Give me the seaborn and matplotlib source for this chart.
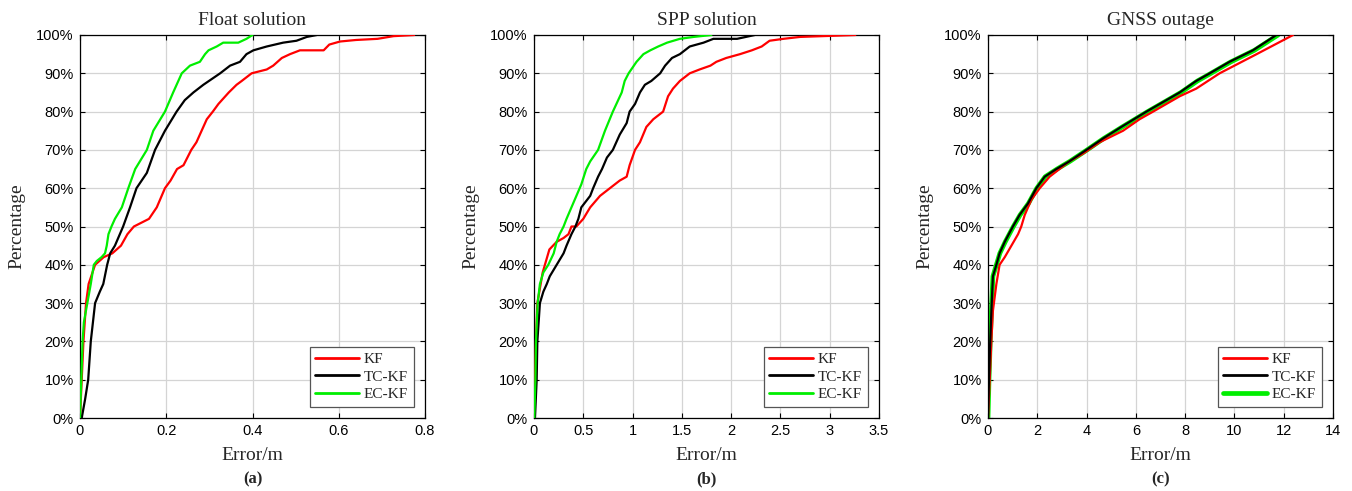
import numpy as np
import pandas as pd
import matplotlib
matplotlib.use("Agg")
import matplotlib.pyplot as plt
import seaborn as sns

# ---------------- data ----------------
methods = ["KF", "TC-KF", "EC-KF"]
panel_titles = ["Float solution", "SPP solution", "GNSS outage"]
panel_tags = ["(a)", "(b)", "(c)"]
x_limits = [0.8, 3.5, 14]
x_ticks = [[0, 0.2, 0.4, 0.6, 0.8],
           [0, 0.5, 1, 1.5, 2, 2.5, 3, 3.5],
           [0, 2, 4, 6, 8, 10, 12, 14]]
x_ticklabels = [["0", "0.2", "0.4", "0.6", "0.8"],
                ["0", "0.5", "1", "1.5", "2", "2.5", "3", "3.5"],
                ["0", "2", "4", "6", "8", "10", "12", "14"]]
y_ticks = [0, 10, 20, 30, 40, 50, 60, 70, 80, 90, 100]
y_ticklabels = ["0%", "10%", "20%", "30%", "40%", "50%", "60%", "70%", "80%", "90%", "100%"]

# (a) Float solution
a_kf_err = [0, 0.004, 0.008, 0.014, 0.020, 0.035, 0.055, 0.075, 0.095, 0.110, 0.125, 0.160, 0.178,
            0.197, 0.210, 0.225, 0.240, 0.258, 0.270, 0.282, 0.294, 0.308, 0.321, 0.345, 0.363,
            0.375, 0.398, 0.433, 0.448, 0.468, 0.487, 0.510, 0.565, 0.578, 0.603, 0.640, 0.690,
            0.727, 0.775]
a_kf_pct = [0, 10, 20, 30, 35, 40, 42, 43, 45, 48, 50, 52, 55,
            60, 62, 65, 66, 70, 72, 75, 78, 80, 82, 85, 87,
            88, 90, 91, 92, 94, 95, 96, 96, 97.5, 98.3, 98.7, 99,
            99.7, 100]
a_tc_err = [0.004, 0.012, 0.019, 0.025, 0.035, 0.046, 0.054, 0.063, 0.070, 0.081, 0.100, 0.116,
            0.131, 0.155, 0.174, 0.197, 0.224, 0.243, 0.263, 0.286, 0.325, 0.348, 0.371, 0.386,
            0.402, 0.433, 0.471, 0.502, 0.526, 0.549]
a_tc_pct = [0, 5, 10, 20, 30, 33, 35, 40, 43, 45, 50, 55,
            60, 64, 70, 75, 80, 83, 85, 87, 90, 92, 93, 95,
            96, 97, 98, 98.5, 99.5, 100]
a_ec_err = [0, 0.003, 0.006, 0.009, 0.017, 0.025, 0.032, 0.039, 0.050, 0.058, 0.062, 0.066, 0.073,
            0.081, 0.097, 0.112, 0.128, 0.155, 0.170, 0.197, 0.216, 0.236, 0.255, 0.278, 0.290,
            0.298, 0.317, 0.332, 0.367, 0.386, 0.400]
a_ec_pct = [0, 10, 20, 25, 30, 35, 40, 41, 42, 43, 45, 48, 50,
            52, 55, 60, 65, 70, 75, 80, 85, 90, 92, 93, 95,
            96, 97, 98, 98, 99, 100]

# (b) SPP solution
b_kf_err = [0, 0.010, 0.020, 0.034, 0.088, 0.156, 0.230, 0.300, 0.350, 0.380, 0.430, 0.500, 0.570,
            0.670, 0.770, 0.870, 0.940, 0.970, 1.025, 1.075, 1.140, 1.210, 1.310, 1.360, 1.410,
            1.480, 1.580, 1.680, 1.790, 1.850, 1.950, 2.090, 2.210, 2.310, 2.390, 2.530, 2.700,
            3.260]
b_kf_pct = [0, 10, 20, 30, 38, 44, 46, 47, 48, 50, 50, 52, 55,
            58, 60, 62, 63, 66, 70, 72, 76, 78, 80, 84, 86,
            88, 90, 91, 92, 93, 94, 95, 96, 97, 98.5, 99, 99.5,
            100]
b_tc_err = [0.010, 0.027, 0.034, 0.060, 0.095, 0.130, 0.160, 0.230, 0.300, 0.330, 0.380, 0.420,
            0.450, 0.480, 0.570, 0.600, 0.650, 0.690, 0.740, 0.800, 0.870, 0.940, 0.970, 1.025,
            1.075, 1.125, 1.190, 1.280, 1.330, 1.400, 1.480, 1.580, 1.720, 1.820, 2.060, 2.240]
b_tc_pct = [0, 10, 20, 30, 33, 35, 37, 40, 43, 45, 48, 50,
            52, 55, 58, 60, 63, 65, 68, 70, 74, 77, 80, 82,
            85, 87, 88, 90, 92, 94, 95, 97, 98, 99, 99, 100]
b_ec_err = [0.003, 0.014, 0.020, 0.037, 0.060, 0.095, 0.145, 0.200, 0.230, 0.260, 0.300, 0.330,
            0.380, 0.430, 0.480, 0.530, 0.570, 0.650, 0.720, 0.800, 0.890, 0.920, 0.960, 1.040,
            1.110, 1.180, 1.260, 1.350, 1.480, 1.620, 1.800]
b_ec_pct = [0, 10, 20, 30, 35, 38, 40, 43, 46, 48, 50, 52,
            55, 58, 61, 65, 67, 70, 75, 80, 85, 88, 90, 93,
            95, 96, 97, 98, 99, 99.5, 100]

# (c) GNSS outage
c_kf_err = [0, 0.07, 0.135, 0.20, 0.34, 0.47, 0.68, 0.95, 1.22, 1.35, 1.49, 1.76, 2.10, 2.50,
            2.90, 3.30, 3.85, 4.53, 5.48, 6.15, 6.70, 7.78, 8.45, 9.40, 10.90, 12.38]
c_kf_pct = [0, 10, 20, 28, 35, 40, 42, 45, 48, 50, 53, 57, 60, 63,
            65, 67, 69, 72, 75, 78, 80, 84, 86, 90, 95, 100]
c_tc_err = [0, 0.04, 0.09, 0.15, 0.20, 0.34, 0.47, 0.68, 1.01, 1.28, 1.62, 1.96, 2.30, 2.77,
            3.30, 3.99, 4.67, 5.41, 6.43, 7.78, 8.45, 9.00, 9.80, 10.75, 11.70]
c_tc_pct = [0, 10, 20, 30, 37, 40, 43, 46, 50, 53, 56, 60, 63, 65,
            67, 70, 73, 76, 80, 85, 88, 90, 93, 96, 100]
c_ec_err = [0, 0.04, 0.09, 0.15, 0.20, 0.34, 0.48, 0.70, 1.03, 1.30, 1.64, 1.98, 2.32, 2.80,
            3.32, 4.02, 4.70, 5.45, 6.48, 7.83, 8.50, 9.05, 9.86, 10.81, 11.77]
c_ec_pct = [0, 10, 20, 30, 37, 40, 43, 46, 50, 53, 56, 60, 63, 65,
            67, 70, 73, 76, 80, 85, 88, 90, 93, 96, 100]

panels = [
    [(a_kf_err, a_kf_pct), (a_tc_err, a_tc_pct), (a_ec_err, a_ec_pct)],
    [(b_kf_err, b_kf_pct), (b_tc_err, b_tc_pct), (b_ec_err, b_ec_pct)],
    [(c_kf_err, c_kf_pct), (c_tc_err, c_tc_pct), (c_ec_err, c_ec_pct)],
]

# ---------------- style ----------------
sns.set_style("white")
plt.rcParams["font.family"] = ["Liberation Serif", "DejaVu Serif"]

colors = {"KF": "#ff0000", "TC-KF": "#000000", "EC-KF": "#00ee00"}
tick_font = ["Liberation Sans", "DejaVu Sans"]

fig = plt.figure(figsize=(13.52, 4.91), dpi=100)
W, H = 1352, 491
lefts = [80, 534, 988]
ax_w, ax_top, ax_bot = 345, 35, 418

for i, left in enumerate(lefts):
    ax = fig.add_axes([left / W, (H - ax_bot) / H, ax_w / W, (ax_bot - ax_top) / H])
    for j, m in enumerate(methods):
        err, pct = panels[i][j]
        df = pd.DataFrame({"err": err, "pct": pct})
        lw = 1.6
        z = 3 + j
        if i == 2 and m == "EC-KF":
            lw, z = 3.4, 2.5
        if i == 2 and m == "TC-KF":
            z = 4
        sns.lineplot(data=df, x="err", y="pct", ax=ax, color=colors[m], linewidth=lw,
                     estimator=None, sort=False, label=m, zorder=z)
    ax.set_xlim(0, x_limits[i])
    ax.set_ylim(0, 100)
    ax.set_xticks(x_ticks[i])
    ax.set_xticklabels(x_ticklabels[i], fontfamily=tick_font, fontsize=10.5)
    ax.set_yticks(y_ticks)
    ax.set_yticklabels(y_ticklabels, fontfamily=tick_font, fontsize=10.5)
    ax.grid(True, color="#d4d4d4", linewidth=0.9, zorder=0)
    ax.set_axisbelow(True)
    ax.tick_params(direction="in", length=3.5, width=0.8, top=True, right=True,
                   bottom=True, left=True, colors="black", pad=4.5)
    for s in ax.spines.values():
        s.set_visible(True)
        s.set_color("black")
        s.set_linewidth(0.9)
    ax.set_title(panel_titles[i], fontsize=14, pad=7)
    ax.set_xlabel("Error/m", fontsize=14)
    ax.set_ylabel("Percentage", fontsize=14)
    ax.xaxis.set_label_coords(0.5, -37 / 383)
    ax.xaxis.label.set_va("center")
    ax.yaxis.set_label_coords(-63 / 345, 0.5)
    ax.yaxis.label.set_va("center")
    ax.text(0.5, -61 / 383, panel_tags[i], transform=ax.transAxes, ha="center", va="center",
            fontsize=12, fontweight="bold")
    leg = ax.legend(loc="lower right", fancybox=False, framealpha=1, edgecolor="#555555",
                    fontsize=11, handlelength=2.9, handletextpad=0.3, labelspacing=0.25,
                    borderpad=0.35, borderaxespad=0.75)
    leg.get_frame().set_linewidth(0.9)
    for h in leg.get_lines():
        h.set_linewidth(2.0)
    if i == 2:
        leg.get_lines()[2].set_linewidth(3.4)

fig.savefig("out.png", dpi=100)
